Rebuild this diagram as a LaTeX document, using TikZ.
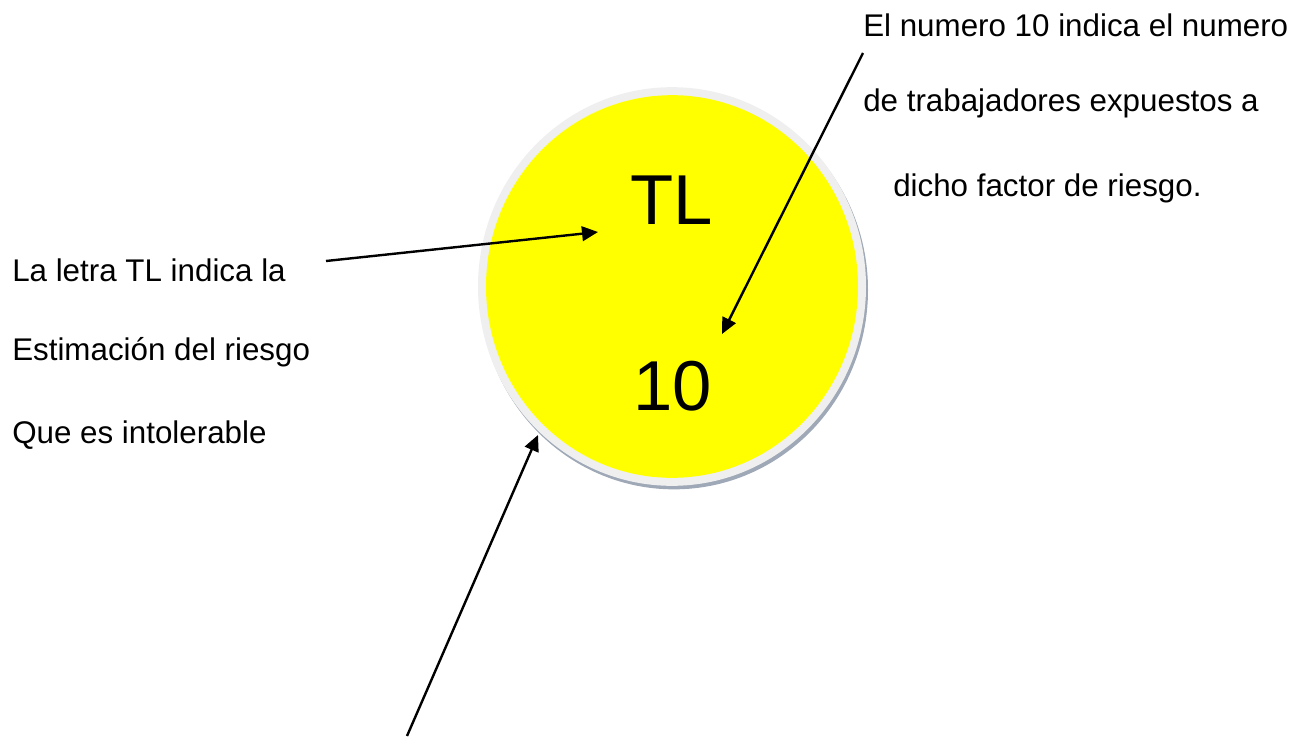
\documentclass[tikz,border=0pt]{standalone}
\usepackage{fontspec}
\setmainfont{Liberation Sans}
\usetikzlibrary{arrows.meta,shapes.geometric}
\definecolor{rimgray}{HTML}{EFEFEF}
\definecolor{shadowgray}{HTML}{9EA8B6}
\definecolor{riskyellow}{HTML}{FFFF00}

\begin{document}
\begin{tikzpicture}[
  x=0.75pt, y=-0.75pt,
  txt/.style  = {anchor=base west, inner sep=0pt,
                 font=\fontsize{23.5}{28}\selectfont},
  big/.style  = {anchor=base, inner sep=0pt,
                 font=\fontsize{53}{60}\selectfont},
  disc/.style = {ellipse, inner sep=0pt},
  arr/.style  = {-{Triangle[length=12pt,width=11pt]}, line width=1.8pt},
]
\useasboundingbox (0,0) rectangle (1304,736);

% ---- risk circle ----
\node[disc, fill=shadowgray, minimum width=291pt, minimum height=299pt] (shadow) at (674,290) {};
\node[disc, fill=rimgray, minimum width=291pt, minimum height=299pt] (rim) at (672,286.5) {};
\node[disc, fill=riskyellow, minimum width=279pt, minimum height=287pt] (risk) at (672,286.5) {};
\node[big] (tl)  at (672,224) {TL};
\node[big] (ten) at (673,410) {10};

% ---- left note ----
\node[txt] (left1) at (12,281) {La letra TL indica la};
\node[txt] (left2) at (12,360) {Estimación del riesgo};
\node[txt] (left3) at (12,443) {Que es intolerable};

% ---- right note ----
\node[txt] (right1) at (863,36)  {El numero 10 indica el numero};
\node[txt] (right2) at (863,111) {de trabajadores expuestos a};
\node[txt] (right3) at (893,196) {dicho factor de riesgo.};

% ---- arrows ----
\coordinate (tlfrom) at (326,261);
\coordinate (tlto)   at (598,232);
\coordinate (tenfrom) at (863,53);
\coordinate (tento)   at (722,334);
\coordinate (rimfrom) at (407,736);
\coordinate (rimto)   at (538,435);

\draw[arr] (tlfrom) -- (tlto);
\draw[arr] (tenfrom) -- (tento);
\draw[arr] (rimfrom) -- (rimto);

\end{tikzpicture}
\end{document}
